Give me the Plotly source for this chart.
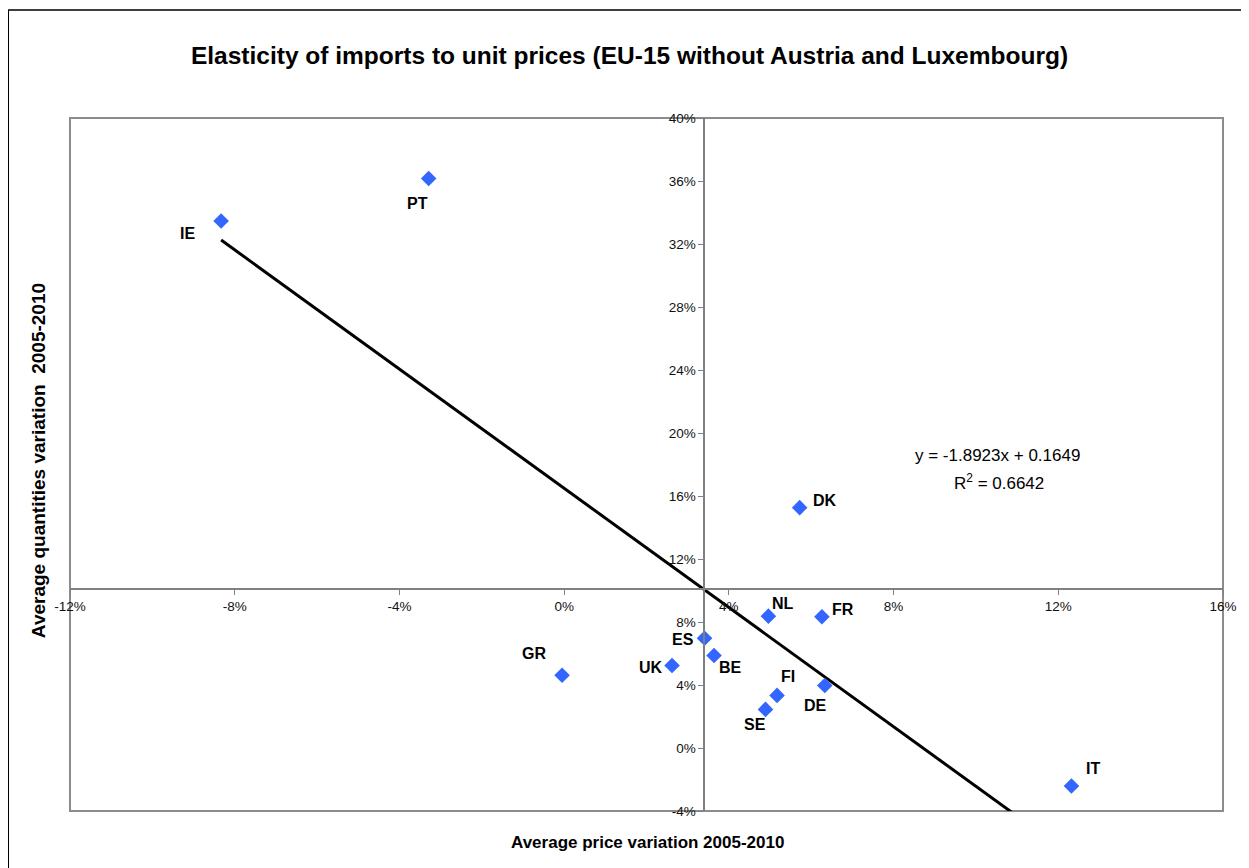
import plotly.graph_objects as go

# ---- data ----
countries = ["IE", "PT", "GR", "NL", "FR", "ES", "BE", "UK", "FI", "SE", "DE", "DK", "IT"]
price_var = [-0.0833, -0.0329, -0.0005, 0.0496, 0.0626, 0.0341, 0.0364, 0.0262, 0.0517, 0.0489, 0.0633, 0.0572, 0.1232]
qty_var = [0.3346, 0.3616, 0.0462, 0.0837, 0.0833, 0.0697, 0.0587, 0.0524, 0.0334, 0.0245, 0.0397, 0.1526, -0.0241]
# label offsets in pixels (dx right, dy down)
label_dx = [-34, -11, -28, 15, 21, -22, 16, -21, 11, -11, -9, 25, 22]
label_dy = [12, 25, -22, -13, -7, 1, 12, 2, -19, 15, 20, -7, -17]

x_tick_vals = [-0.12, -0.08, -0.04, 0.0, 0.04, 0.08, 0.12, 0.16]
x_tick_text = ["-12%", "-8%", "-4%", "0%", "4%", "8%", "12%", "16%"]
y_tick_vals = [-0.04, 0.0, 0.04, 0.08, 0.12, 0.16, 0.20, 0.24, 0.28, 0.32, 0.36, 0.40]
y_tick_text = ["-4%", "0%", "4%", "8%", "12%", "16%", "20%", "24%", "28%", "32%", "36%", "40%"]

slope = -1.8923
intercept = 0.1649
r2 = 0.6642
x_cross = 0.034
y_cross = 0.101

x_range = [-0.12, 0.16]
y_range = [-0.04, 0.40]

FONT = "Liberation Sans, Arial, sans-serif"

# page offset of the figure (browser body margin)
OFF = 8
W, H = 1249 - OFF, 868 - OFF
PL, PR, PT_, PB = 70, 1228, 118, 811  # plot area in page pixels
PW, PH = PR - PL, PB - PT_


def px(xp):
    return (xp - PL) / PW


def py(yp):
    return (PB - yp) / PH


fig = go.Figure()

# trendline
x_line = [min(price_var), max(price_var)]
y_line = [slope * v + intercept for v in x_line]
fig.add_trace(go.Scatter(x=x_line, y=y_line, mode="lines",
                         line=dict(color="black", width=3), hoverinfo="skip",
                         showlegend=False))

# points
fig.add_trace(go.Scatter(x=price_var, y=qty_var, mode="markers",
                         marker=dict(symbol="diamond", size=12, color="#3366FF"),
                         showlegend=False))

annotations = []
for c, x, y, dx, dy in zip(countries, price_var, qty_var, label_dx, label_dy):
    annotations.append(dict(x=x, y=y, xref="x", yref="y", text=f"<b>{c}</b>",
                            showarrow=False, xshift=dx, yshift=-dy,
                            xanchor="center", yanchor="middle",
                            font=dict(family=FONT, size=16, color="black")))

# equation
annotations.append(dict(x=px(1002), y=py(455), xref="paper", yref="paper",
                        text=f"y = {slope}x + {intercept}", showarrow=False,
                        xanchor="center", yanchor="middle",
                        font=dict(family=FONT, size=17, color="black")))
annotations.append(dict(x=px(1003), y=py(482), xref="paper", yref="paper",
                        text=f"R<sup>2</sup> = {r2}", showarrow=False,
                        xanchor="center", yanchor="middle",
                        font=dict(family=FONT, size=17, color="black")))

# axis titles
annotations.append(dict(x=px(650), y=py(842), xref="paper", yref="paper",
                        text="<b>Average price variation 2005-2010</b>", showarrow=False,
                        xanchor="center", yanchor="middle",
                        font=dict(family=FONT, size=17, color="black")))
annotations.append(dict(x=px(38), y=py(461), xref="paper", yref="paper",
                        text="<b>Average quantities variation  2005-2010</b>", showarrow=False,
                        textangle=-90, xanchor="center", yanchor="middle",
                        font=dict(family=FONT, size=19, color="black")))

shapes = [
    # plot area frame
    dict(type="rect", xref="paper", yref="paper", x0=0, x1=1, y0=0, y1=1,
         line=dict(color="#8c8c8c", width=2), layer="below"),
    # outer chart border
    dict(type="rect", xref="paper", yref="paper",
         x0=px(8), x1=px(1247), y0=py(880), y1=py(10),
         line=dict(color="black", width=1.5)),
]

fig.update_layout(
    width=W, height=H,
    margin=dict(l=PL - OFF, r=W + OFF - PR, t=PT_ - OFF, b=H + OFF - PB, pad=0),
    paper_bgcolor="white", plot_bgcolor="white",
    title=dict(text="<b>Elasticity of imports to unit prices (EU-15 without Austria and Luxembourg)</b>",
               x=(629.5 - OFF) / W, xref="container", xanchor="center",
               y=1 - (55 - OFF) / H, yref="container", yanchor="middle",
               font=dict(family=FONT, size=24.5, color="black")),
    xaxis=dict(range=x_range, tickmode="array", tickvals=x_tick_vals, ticktext=x_tick_text,
               showgrid=False, zeroline=False,
               anchor="free", position=(y_cross - y_range[0]) / (y_range[1] - y_range[0]),
               showline=True, linecolor="#808080", linewidth=1.5,
               ticks="outside", ticklen=5, tickcolor="#808080",
               tickfont=dict(family=FONT, size=13.5, color="#111")),
    yaxis=dict(range=y_range, tickmode="array", tickvals=y_tick_vals, ticktext=y_tick_text,
               showgrid=False, zeroline=False,
               anchor="free", position=(x_cross - x_range[0]) / (x_range[1] - x_range[0]),
               showline=True, linecolor="#808080", linewidth=1.5,
               ticks="outside", ticklen=5, tickcolor="#808080",
               tickfont=dict(family=FONT, size=13.5, color="#111")),
    annotations=annotations,
    shapes=shapes,
    showlegend=False,
)

fig.write_html("out.html")
